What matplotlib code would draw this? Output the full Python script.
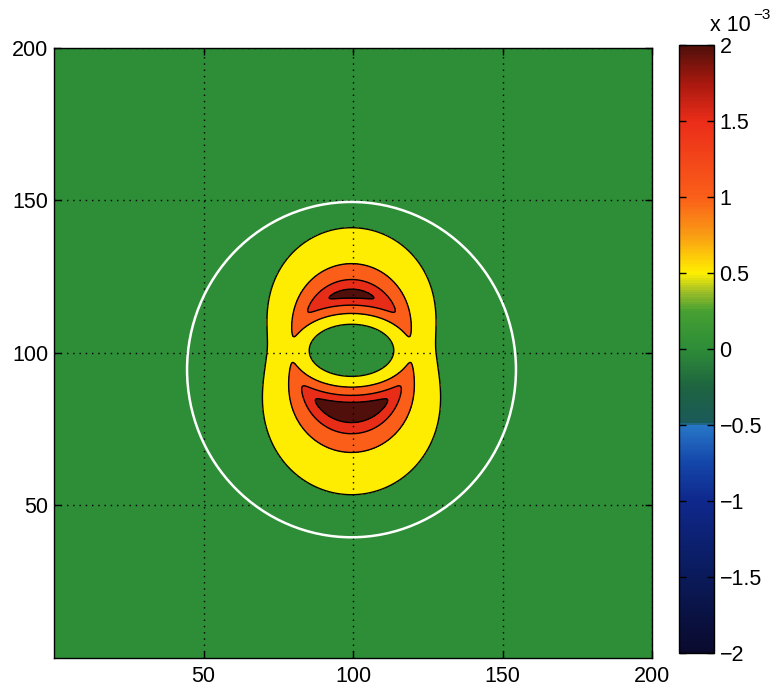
import numpy as np
import matplotlib
matplotlib.use('Agg')
import matplotlib.pyplot as plt
from matplotlib.colors import LinearSegmentedColormap, Normalize
from matplotlib.cm import ScalarMappable
from matplotlib.patches import Circle

plt.rcParams['font.family'] = ['Liberation Sans', 'DejaVu Sans']
plt.rcParams['font.size'] = 15.5

# colour scale (values in units of 1e-3)
scale_values = [-2.0, -1.5, -1.0, -0.75, -0.5, -0.49, -0.25, 0.0, 0.25, 0.38, 0.5, 0.75, 1.0, 1.5, 1.75, 2.0]
scale_colors = ['#0a0a2d', '#0a1a5a', '#0f288c', '#1446aa', '#2878c8', '#1a5a5a', '#1e6440', '#2d8c37',
                '#46a032', '#a0be28', '#fff000', '#fa9c14', '#fa5f19', '#eb2d19', '#aa190f', '#500f0a']
vmin, vmax = -2.0, 2.0

# contour levels of the field (units of 1e-3)
fill_bounds = [-1.0, 0.5, 1.0, 1.5, 2.0, 5.0]
fill_values = [0.0, 0.5, 1.0, 1.5, 2.0]
line_levels = [0.5, 1.0, 1.5, 2.0]

# source parameters: rise near the centre, decay far away, side weights
center_x, center_y = 99.5, 100.8
upper = dict(rise=0.0068, decay=810.0, side_in=0.37, side_out=0.47, shape_out=0.85)
lower = dict(rise=0.0069, decay=1120.0, side_in=0.36, side_out=0.37, shape_out=1.0)
sharpness = 10
blend_width = 3.5

# reference ring
ring_x, ring_y, ring_r = 99.5, 94.5, 55.0

grid_ticks = [50, 100, 150, 200]
cbar_ticks = [-2, -1.5, -1, -0.5, 0, 0.5, 1, 1.5, 2]


def lobe(r2, s2, p):
    fi = p['side_in'] + (1 - p['side_in']) * s2
    fo = p['side_out'] + (1 - p['side_out']) * s2 ** p['shape_out']
    inner = p['rise'] * r2 * fi
    outer = p['decay'] * fo / r2
    with np.errstate(divide='ignore', over='ignore'):
        return (inner ** -sharpness + outer ** -sharpness) ** (-1.0 / sharpness)


x = np.linspace(0, 200, 801)
y = np.linspace(0, 200, 801)
X, Y = np.meshgrid(x, y)
dx = X - center_x
dy = Y - center_y
r2 = dx ** 2 + dy ** 2 + 1e-9
s2 = dy ** 2 / r2
w = 1.0 / (1.0 + np.exp(-dy / blend_width))
Z = w * lobe(r2, s2, upper) + (1 - w) * lobe(r2, s2, lower)
Z = np.nan_to_num(Z)

cmap = LinearSegmentedColormap.from_list(
    'scan_jet', [((v - vmin) / (vmax - vmin), c) for v, c in zip(scale_values, scale_colors)])
norm = Normalize(vmin, vmax)

fig = plt.figure(figsize=(7.73, 6.88), dpi=100)
ax = fig.add_axes([54 / 773, 1 - 657.7 / 688, 598 / 773, 609.7 / 688])

ax.contourf(X, Y, Z, levels=fill_bounds, colors=[cmap(norm(v)) for v in fill_values], zorder=1)
ax.contour(X, Y, Z, levels=line_levels, colors='k', linewidths=1.0, zorder=2)
ax.add_patch(Circle((ring_x, ring_y), ring_r, fill=False, ec='white', lw=1.8, zorder=3))

ax.set_xlim(0, 200)
ax.set_ylim(0, 200)
ax.set_xticks(grid_ticks)
ax.set_yticks(grid_ticks)
ax.set_axisbelow(False)
ax.grid(True, color='k', linestyle=(0, (1, 3.5)), linewidth=1.0)
ax.tick_params(direction='in', length=5, width=1, top=True, right=True, pad=6)
ax.tick_params(axis='y', pad=4)
for sp in ax.spines.values():
    sp.set_linewidth(1.0)

cax = fig.add_axes([679 / 773, 1 - 653 / 688, 35 / 773, 608 / 688])
cb = fig.colorbar(ScalarMappable(norm=norm, cmap=cmap), cax=cax)
cb.set_ticks(cbar_ticks)
cb.set_ticklabels([f'{t:g}'.replace('-', '\u2212') for t in cbar_ticks])
cax.tick_params(direction='in', length=5, width=1, left=True, right=True, pad=4)
cb.outline.set_linewidth(1.0)

fig.text(710 / 773, 1 - 31 / 688, 'x 10', fontsize=15.5, ha='left', va='baseline')
fig.text(753 / 773, 1 - 19 / 688, '\u22123', fontsize=11, ha='left', va='baseline')

fig.savefig('out.png', dpi=100)
